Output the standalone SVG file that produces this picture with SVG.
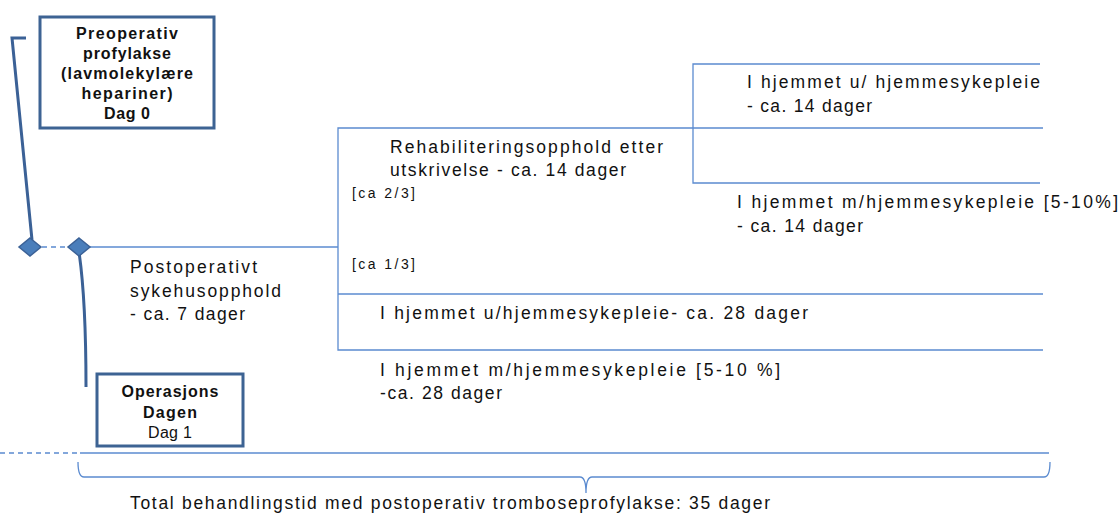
<svg xmlns="http://www.w3.org/2000/svg" width="1120" height="514" viewBox="0 0 1120 514">
<style>
.c{fill:none;stroke:#5b8bd0;stroke-width:1.3}
.d{fill:none;stroke:#3b6196;stroke-width:3}
.box{fill:#fff;stroke:#3d6393;stroke-width:3}
.dia{fill:#4a7ebb;stroke:#3b6196;stroke-width:1.5}
text{font-family:"Liberation Sans",Arial,sans-serif;font-size:17.5px;fill:#111}
.b{font-weight:bold;font-size:16px;text-anchor:middle}
.s{font-size:14px}
</style>
<g id="connectors">
<path class="d" d="M26,38 H12 L32,240"/>
<path class="d" d="M79,252 Q86,300 86,387"/>
<path class="c" d="M42,247 H68" stroke-dasharray="5,4"/>
<path class="c" d="M90,247 H338"/>
<path class="c" d="M1043,128 H338 V350 H1043"/>
<path class="c" d="M338,294 H1043"/>
<path class="c" d="M1040,64 H693 V183 H1040"/>
<path class="c" d="M0,453 H80" stroke-dasharray="5,4"/>
<path class="c" d="M80,453 H1049"/>
<path class="c" d="M78,462 Q78,477 84,477 H580 Q586,477 586,493 Q586,477 592,477 H1044 Q1050,477 1050,462"/>
</g>
<g id="diamond-pre"><polygon class="dia" points="30,238 41,247 30,256 19,247"/></g>
<g id="diamond-op"><polygon class="dia" points="79,238 90,247 79,256 68,247"/></g>
<g id="box-pre">
<rect class="box" x="40" y="17" width="174" height="111"/>
<text class="b" x="127" y="39" textLength="102">Preoperativ</text>
<text class="b" x="127" y="59" textLength="88">profylakse</text>
<text class="b" x="127" y="79" textLength="132">(lavmolekylære</text>
<text class="b" x="127" y="99" textLength="91">hepariner)</text>
<text class="b" x="127" y="119" textLength="46">Dag 0</text>
</g>
<g id="box-op">
<rect class="box" x="97" y="374" width="146" height="72"/>
<text class="b" x="170" y="397" textLength="97">Operasjons</text>
<text class="b" x="170" y="418" textLength="54">Dagen</text>
<text class="b" x="170" y="438" style="font-weight:normal" textLength="44">Dag 1</text>
</g>
<g id="postop">
<text x="130" y="273" textLength="127">Postoperativt</text>
<text x="130" y="297" textLength="151">sykehusopphold</text>
<text x="130" y="320" textLength="115">- ca. 7 dager</text>
</g>
<g id="rehab">
<text x="390" y="153" textLength="273">Rehabiliteringsopphold etter</text>
<text x="390" y="176" textLength="236">utskrivelse - ca. 14 dager</text>
</g>
<g id="frac">
<text class="s" x="352" y="198" textLength="63">[ca 2/3]</text>
<text class="s" x="352" y="269" textLength="63">[ca 1/3]</text>
</g>
<g id="home-u-14">
<text x="747" y="88" textLength="293">I hjemmet u/ hjemmesykepleie</text>
<text x="747" y="112" textLength="125">- ca. 14 dager</text>
</g>
<g id="home-m-14">
<text x="737" y="208" textLength="381">I hjemmet m/hjemmesykepleie [5-10%]</text>
<text x="737" y="232" textLength="126">- ca. 14 dager</text>
</g>
<g id="home-u-28">
<text x="380" y="319" textLength="428">I hjemmet u/hjemmesykepleie- ca. 28 dager</text>
</g>
<g id="home-m-28">
<text x="380" y="376" textLength="400">I hjemmet m/hjemmesykepleie [5-10 %]</text>
<text x="380" y="399" textLength="122">-ca. 28 dager</text>
</g>
<g id="total">
<text x="130" y="509" textLength="640">Total behandlingstid med postoperativ tromboseprofylakse: 35 dager</text>
</g>
</svg>
